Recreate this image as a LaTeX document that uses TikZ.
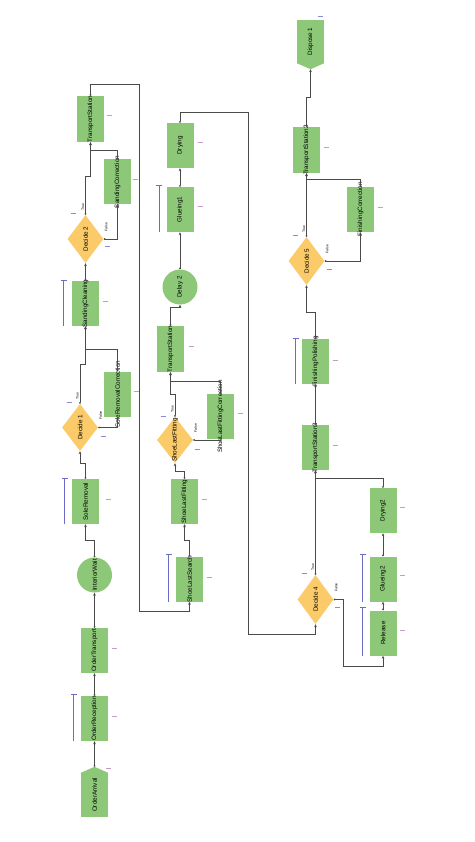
\documentclass[tikz,border=0pt]{standalone}
\usepackage{fontspec}
\setmainfont{Liberation Sans}
\usetikzlibrary{shapes.geometric,arrows.meta}
\definecolor{arenagreen}{HTML}{8CC878}
\definecolor{arenayellow}{HTML}{FBCB6A}
\definecolor{arenaline}{HTML}{4A4A4A}
\definecolor{arenaqueue}{HTML}{6C6CC8}
\definecolor{arenapink}{HTML}{C898C8}
\definecolor{arenablue}{HTML}{8A8AD8}
\newcommand{\vlab}[1]{\rotatebox{90}{\makebox[0pt]{#1}}}
\begin{document}
\begin{tikzpicture}[x=1pt,y=-1pt,
  module/.style={rectangle,fill=arenagreen,minimum width=27pt,minimum height=45pt,inner sep=0pt,font=\fontsize{6.3}{7}\selectfont},
  waitmod/.style={circle,fill=arenagreen,minimum size=35pt,inner sep=0pt,font=\fontsize{6.3}{7}\selectfont},
  decide/.style={diamond,fill=arenayellow,minimum width=36pt,minimum height=48pt,inner sep=0pt,font=\fontsize{6.3}{7}\selectfont},
  flow/.style={draw=arenaline,line width=1pt,{Circle[length=1.8pt]}-{Stealth[length=3pt,width=2.6pt]}},
  queue/.style={draw=arenaqueue,line width=0.8pt,{Bar[width=6pt]}-},
  cond/.style={rotate=90,inner sep=0pt,font=\fontsize{3.5}{4}\selectfont},
  pinkdash/.style={arenapink,line width=0.6pt},
  bluedash/.style={arenablue,line width=0.6pt}]
\useasboundingbox (0,0) rectangle (474,842);
% column 1: order and sole work
\node[module,minimum height=44pt] (oarr) at (94.5,795) {\vlab{OrderArrival}};
\coordinate (oarrtip) at ([yshift=6pt]oarr.north);
\fill[arenagreen] (oarr.north west) -- (oarrtip) -- (oarr.north east) -- cycle;
\node[module] (orec) at (94.5,718.5) {\vlab{OrderReception}};
\node[module] (otrans) at (94.5,650.5) {\vlab{OrderTransport}};
\node[waitmod] (iwait) at (94.5,575) {\vlab{InteriorWait}};
\node[module] (solerem) at (85.5,501.5) {\vlab{SoleRemoval}};
\node[decide,minimum height=47pt] (dec1) at (80,427.5) {\vlab{Decide 1}};
\node[module] (solecorr) at (117.5,394) {\vlab{SoleRemovalCorrection}};
\node[module] (sandclean) at (85.5,303.5) {\vlab{SandingCleaning}};
\node[decide] (dec2) at (85.5,239) {\vlab{Decide 2}};
\node[module] (sandcorr) at (117.5,182) {\vlab{SandingCorrection}};
\node[module,minimum height=46pt] (tstat1) at (90.5,119) {\vlab{TransportStation}};
% column 2: shoe last and glueing
\node[module] (lsearch) at (189.5,579) {\vlab{ShoeLastSearch}};
\node[module] (lfit) at (184.5,501.5) {\vlab{ShoeLastFitting}};
\node[decide,minimum height=46pt] (dec3) at (175,440) {\vlab{ShoeLastFitting}};
\node[module] (lfitcorr) at (220.5,416.5) {\vlab{ShoeLastFittingCorrection}};
\node[module,minimum height=46pt] (tstat2) at (170.5,349) {\vlab{TransportStation}};
\node[waitmod] (delay2) at (180,287) {\vlab{Delay 2}};
\node[module] (glue1) at (180,209.5) {\vlab{Glueing1}};
\node[module] (dry1) at (180,145.5) {\vlab{Drying}};
% column 3: finishing and dispose
\node[decide,minimum height=49pt] (dec4) at (315.5,599.5) {\vlab{Decide 4}};
\node[module] (release) at (383,633) {\vlab{Release}};
\node[module] (glue2) at (383,579) {\vlab{Glueing2}};
\node[module] (dry2) at (383,510.5) {\vlab{Drying2}};
\node[module] (tstat3) at (315.5,447.5) {\vlab{TransportStation3}};
\node[module] (finpol) at (315.5,361.5) {\vlab{FinishingPolishing}};
\node[decide] (dec5) at (306.5,261) {\vlab{Decide 5}};
\node[module] (fincorr) at (360.5,209.5) {\vlab{FinishingCorrection}};
\node[module,minimum height=46pt] (tstat4) at (306.5,150) {\vlab{TransportStation2}};
\node[module,minimum height=43pt] (dispose) at (310.5,41.5) {\vlab{Dispose 1}};
\coordinate (disptip) at ([yshift=-6pt]dispose.south);
\fill[arenagreen] (dispose.south west) -- (disptip) -- (dispose.south east) -- cycle;
% true / false labels
\node[cond] (t1) at ([xshift=-2.5pt,yshift=7.5pt]dec1.north) {True};
\node[cond] (f1) at ([xshift=2.5pt,yshift=12pt]dec1.east) {False};
\node[cond] (t2) at ([xshift=-2.5pt,yshift=7.5pt]dec2.north) {True};
\node[cond] (f2) at ([xshift=2.5pt,yshift=12pt]dec2.east) {False};
\node[cond] (t3) at ([xshift=-2.5pt,yshift=7.5pt]dec3.north) {True};
\node[cond] (f3) at ([xshift=2.5pt,yshift=12pt]dec3.east) {False};
\node[cond] (t4) at ([xshift=-2.5pt,yshift=7.5pt]dec4.north) {True};
\node[cond] (f4) at ([xshift=2.5pt,yshift=12pt]dec4.east) {False};
\node[cond] (t5) at ([xshift=-2.5pt,yshift=7.5pt]dec5.north) {True};
\node[cond] (f5) at ([xshift=2.5pt,yshift=12pt]dec5.east) {False};
% queues
\draw[queue] ([xshift=-7pt,yshift=2pt]orec.north west) -- ([xshift=-7pt]orec.south west);
\draw[queue] ([xshift=-7pt,yshift=1pt]solerem.north west) -- ([xshift=-7pt]solerem.south west);
\draw[queue] ([xshift=-8pt,yshift=1pt]sandclean.north west) -- ([xshift=-8pt]sandclean.south west);
\draw[queue] ([xshift=-7pt,yshift=2pt]lsearch.north west) -- ([xshift=-7pt]lsearch.south west);
\draw[queue] ([xshift=-7pt,yshift=2pt]glue1.north west) -- ([xshift=-7pt]glue1.south west);
\draw[queue] ([xshift=-6pt,yshift=1pt]finpol.north west) -- ([xshift=-6pt]finpol.south west);
\draw[queue] ([xshift=-6.5pt,yshift=2pt]glue2.north west) -- ([xshift=-6.5pt]glue2.south west);
\draw[queue] ([xshift=-6.5pt,yshift=3pt]release.north west) -- ([xshift=-6.5pt]release.south west);
% connections column 1
\draw[flow] (oarrtip) -- (orec.south);
\draw[flow] (orec.north) -- (otrans.south);
\draw[flow] (otrans.north) -- (iwait.south);
\draw[flow] (iwait.north) -- ++(0,-17) -| (solerem.south);
\draw[flow] (solerem.north) -- ++(0,-15) -| (dec1.south);
\draw[flow] (dec1.north) -- ++(0,-39) -| (sandclean.south);
\draw[flow] (dec1.east) -| (solecorr.south);
\draw[flow] (solecorr.north) -- ++(0,-22) -| (sandclean.south);
\draw[flow] (sandclean.north) -- (dec2.south);
\draw[flow] (dec2.north) -- ++(0,-38) -| (tstat1.south);
\draw[flow] (dec2.east) -| (sandcorr.south);
\draw[flow] (sandcorr.north) -- ++(0,-9) -| (tstat1.south);
\draw[flow] (tstat1.north) -- ++(0,-11) -| (139,611) -| (lsearch.south);
% connections column 2
\draw[flow] (lsearch.north) -- ++(0,-16) -| (lfit.south);
\draw[flow] (lfit.north) -- ++(0,-7) -| (dec3.south);
\draw[flow] (dec3.north) -- ++(0,-22) -| (tstat2.south);
\draw[flow] (dec3.east) -| (lfitcorr.south);
\draw[flow] (lfitcorr.north) -- ++(0,-12) -| (tstat2.south);
\draw[flow] (tstat2.north) -- ++(0,-18) -| (delay2.south);
\draw[flow] (delay2.north) -- (glue1.south);
\draw[flow] (glue1.north) -- (dry1.south);
\draw[flow] (dry1.north) -- ++(0,-10) -| (248,634) -| (dec4.south);
% connections column 3
\draw[flow] (dec4.east) -| (343,666) -| (release.south);
\draw[flow] (release.north) -- (glue2.south);
\draw[flow] (glue2.north) -- (dry2.south);
\draw[flow] (dry2.north) -- ++(0,-9) -| (tstat3.south);
\draw[flow] (dec4.north) -- (tstat3.south);
\draw[flow] (tstat3.north) -- (finpol.south);
\draw[flow] (finpol.north) -- ++(0,-26) -| (dec5.south);
\draw[flow] (dec5.north) -- (tstat4.south);
\draw[flow] (dec5.east) -| (fincorr.south);
\draw[flow] (fincorr.north) -- ++(0,-7) -| (tstat4.south);
\draw[flow] (tstat4.north) -- ++(0,-29) -| (disptip);
% small markers
\draw[pinkdash] (105.5,768) -- ++(5,0);
\draw[pinkdash] (111.5,716) -- ++(5,0);
\draw[pinkdash] (111.5,648) -- ++(5,0);
\draw[pinkdash] (105.5,499) -- ++(5,0);
\draw[pinkdash] (133.5,391) -- ++(5,0);
\draw[pinkdash] (102.5,301) -- ++(5,0);
\draw[pinkdash] (132.5,179) -- ++(5,0);
\draw[pinkdash] (106.5,115) -- ++(5,0);
\draw[pinkdash] (206.5,577) -- ++(5,0);
\draw[pinkdash] (201.5,499) -- ++(5,0);
\draw[pinkdash] (237.5,413) -- ++(5,0);
\draw[pinkdash] (188.5,346) -- ++(5,0);
\draw[pinkdash] (197.5,206) -- ++(5,0);
\draw[pinkdash] (197.5,142) -- ++(5,0);
\draw[pinkdash] (323.5,147) -- ++(5,0);
\draw[pinkdash] (377.5,207) -- ++(5,0);
\draw[pinkdash] (332.5,360) -- ++(5,0);
\draw[pinkdash] (332.5,445) -- ++(5,0);
\draw[pinkdash] (399.5,507) -- ++(5,0);
\draw[pinkdash] (399.5,575) -- ++(5,0);
\draw[pinkdash] (399.5,630) -- ++(5,0);
\draw[bluedash] (66.5,402) -- ++(5,0);
\draw[bluedash] (100.5,436) -- ++(5,0);
\draw[bluedash] (70.5,213) -- ++(5,0);
\draw[bluedash] (104.5,246) -- ++(5,0);
\draw[bluedash] (160.5,416) -- ++(5,0);
\draw[bluedash] (194.5,449) -- ++(5,0);
\draw[bluedash] (292.5,235) -- ++(5,0);
\draw[bluedash] (326.5,269) -- ++(5,0);
\draw[bluedash] (301.5,573) -- ++(5,0);
\draw[bluedash] (334.5,607) -- ++(5,0);
\draw[bluedash] (317.5,16) -- ++(5,0);
\end{tikzpicture}
\end{document}
